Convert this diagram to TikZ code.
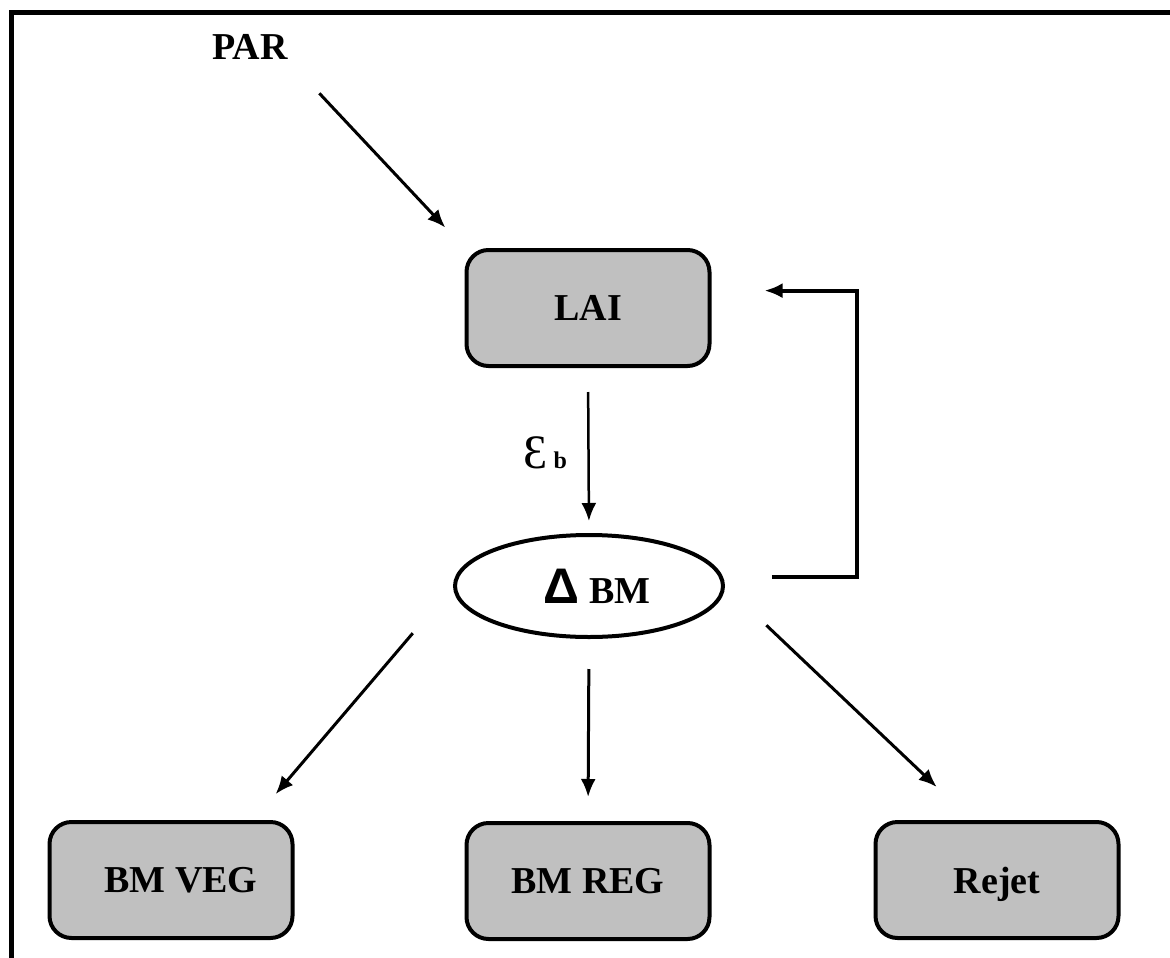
\documentclass[tikz,border=0pt]{standalone}
\usepackage{fontspec}
\setmainfont{Liberation Serif}
\newfontfamily\deltafont{Liberation Sans}
\usetikzlibrary{arrows.meta,shapes.geometric}
\definecolor{boxgray}{RGB}{192,192,192}

\begin{document}
\begin{tikzpicture}
  [x=1pt,y=-1pt,
   font=\fontsize{38}{40}\selectfont\bfseries,
   box/.style={rectangle,rounded corners=22pt,draw=black,fill=boxgray,line width=4pt,minimum width=243pt,minimum height=116pt,inner sep=0pt,text depth=0pt},
   pool/.style={ellipse,draw=black,line width=4pt,minimum width=268pt,minimum height=102pt,inner sep=0pt},
   flow/.style={-{Latex[length=18pt,width=15pt]},line width=3pt},
   feedback/.style={-{Latex[length=18pt,width=15pt]},line width=4pt}]
		\useasboundingbox (0,0) rectangle (1170,958);
		\draw [line width=5pt] (11,958) -- (11,13) -- (1170,13);
		\node (par) [inner sep=0pt] at (250,47) {PAR};
		\node (lai) [box] at (588,308) {LAI};
		\node (eps) [inner sep=0pt] at (545,453) {{\fontsize{48}{48}\selectfont\mdseries Ɛ}\,{\fontsize{24}{24}\selectfont b}};
		\node (bm) [pool] at (589,586) {\hspace*{16pt}{\deltafont\fontsize{50}{50}\selectfont Δ}\hspace{10pt}BM};
		\node (veg) [box] at (171,880) {\hspace*{20pt}BM VEG};
		\node (reg) [box] at (588,881) {BM REG};
		\node (rej) [box] at (997,880) {Rejet};
		\draw [flow,shorten <=46pt,shorten >=28pt] (par.south east) -- (lai.north west);
		\draw [flow,line width=2.5pt,shorten <=24pt,shorten >=12pt] (lai.south) -- (bm.north);
		\draw [feedback,shorten <=49pt,shorten >=53pt] (bm.4) -- ++(134,0) |- (lai.8);
		\draw [flow,shorten <=62pt,shorten >=34pt] (bm.west) -- (veg.36);
		\draw [flow,shorten <=30pt,shorten >=24pt] (bm.south) -- (reg.north);
		\draw [flow,shorten <=57pt,shorten >=48pt] (bm.east) -- (rej.113);
\end{tikzpicture}
\end{document}
